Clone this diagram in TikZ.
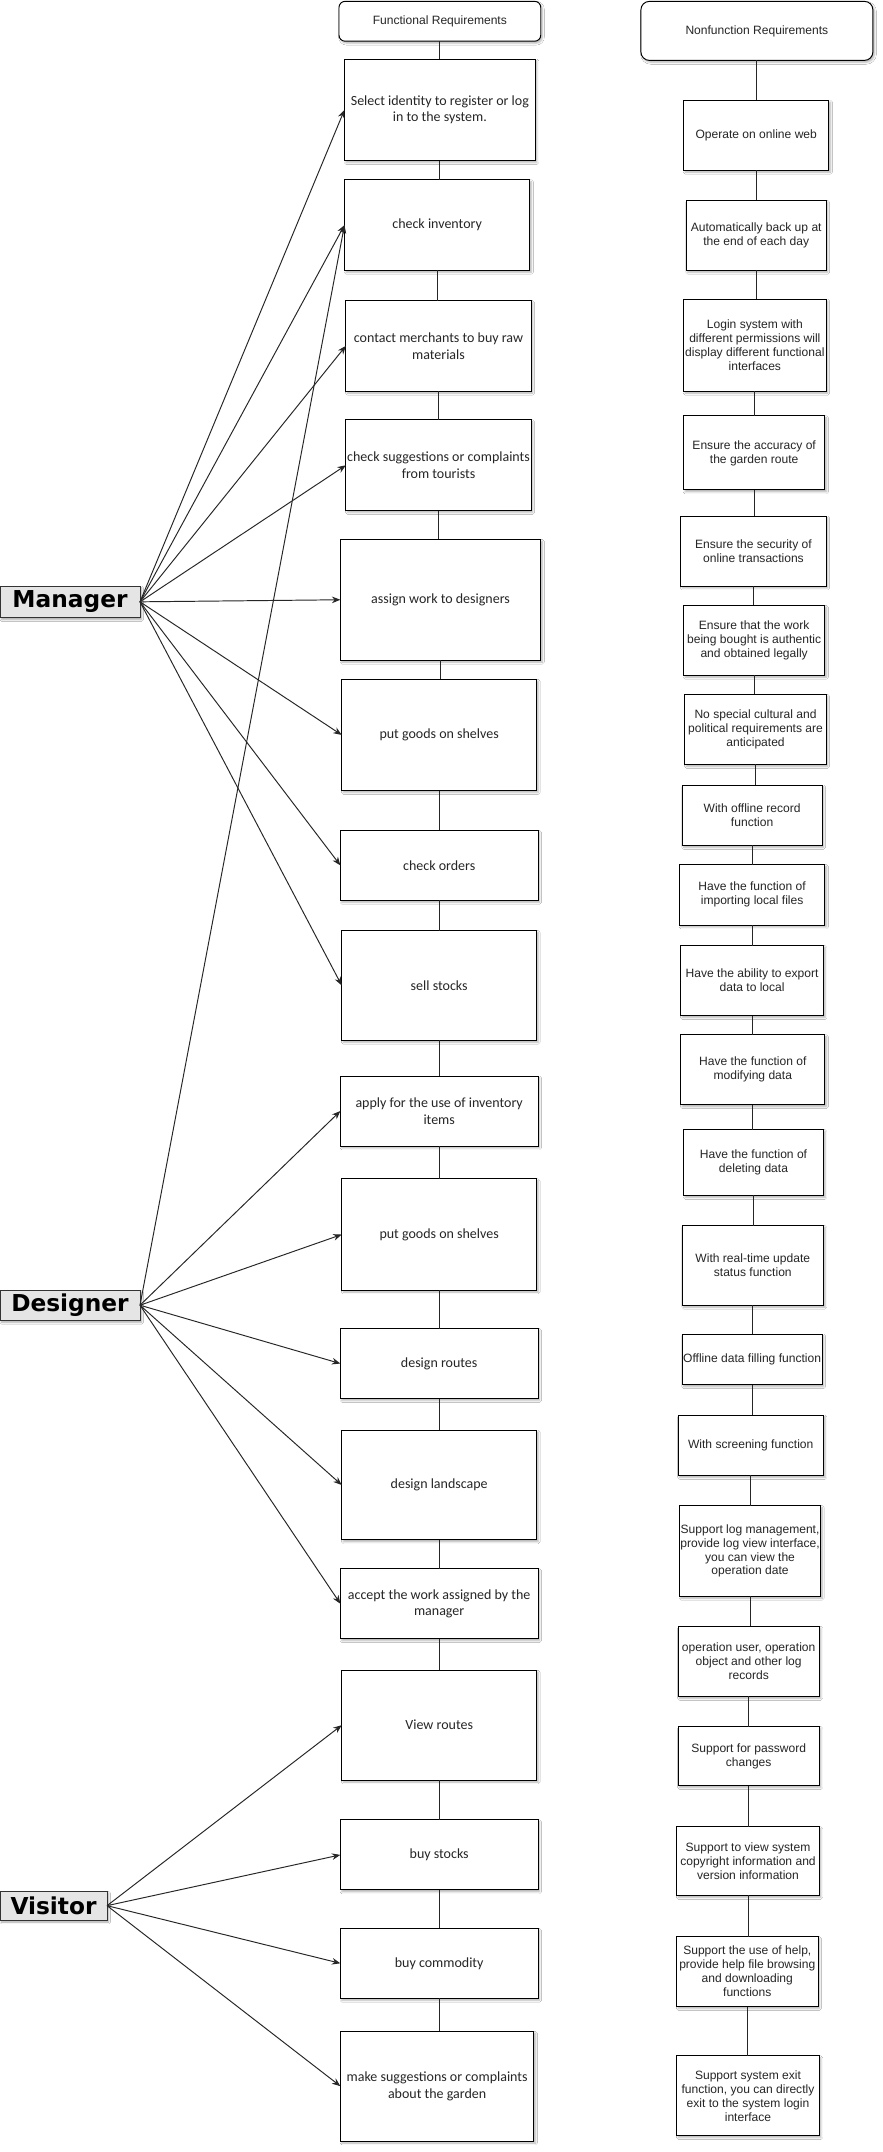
\documentclass[tikz,border=0pt]{standalone}
\usepackage{fontspec}
\setmainfont{Liberation Sans}
\newfontfamily\calfont{Carlito}
\newfontfamily\actorfont{DejaVu Sans}
\usetikzlibrary{arrows.meta,shadows.blur}

% place a node from its corner coordinates: style, name, x1, y1, x2, y2, text
\newcommand\placebox[7]{%
  \pgfmathsetmacro\bcx{(#3+#5)/2}%
  \pgfmathsetmacro\bcy{(#4+#6)/2}%
  \pgfmathsetmacro\bw{(#5-#3)*0.04}%
  \pgfmathsetmacro\bh{(#6-#4)*0.04}%
  \node[#1, minimum width=\bw cm, minimum height=\bh cm] (#2) at (\bcx,\bcy) {#7};%
}

\tikzset{
  basebox/.style={draw=black, line width=0.8pt, fill=white, inner sep=0pt, outer sep=0pt,
    align=center, text=black!85,
    blur shadow={shadow xshift=1.3pt, shadow yshift=-1.6pt, shadow blur radius=1.6pt, shadow opacity=30}},
  funcbox/.style={basebox, font=\calfont\fontsize{11.6}{13.9}\selectfont},
  nfbox/.style={basebox, font=\fontsize{10}{11.6}\selectfont},
  headbox/.style={basebox, rounded corners=5pt, font=\fontsize{10}{12}\selectfont},
  actorbox/.style={draw=black!80, line width=0.8pt, fill=black!10, inner sep=0pt, outer sep=0pt,
    text=black, font=\actorfont\bfseries\fontsize{19.3}{22}\selectfont,
    blur shadow={shadow xshift=1.3pt, shadow yshift=-1.6pt, shadow blur radius=1.6pt, shadow opacity=35}},
  link/.style={draw=black!85, line width=0.8pt},
  arr/.style={link, -{Stealth[length=7pt,width=5.5pt]}}
}

\begin{document}
\begin{tikzpicture}[x=0.04cm, y=-0.04cm]
\useasboundingbox (0,0) rectangle (643,1568);
\fill[white] (0,0) rectangle (643,1568);

% functional requirements column
\placebox{headbox}{fh}{247}{1}{394}{30}{Functional Requirements}
\placebox{funcbox}{f1}{251}{43}{390}{117}{Select identity to register or log\\in to the system.}
\placebox{funcbox}{f2}{251}{131}{386}{197}{check inventory}
\placebox{funcbox}{f3}{252}{219}{387}{285}{contact merchants to buy raw\\materials}
\placebox{funcbox}{f4}{252}{306}{387}{372}{check suggestions or complaints\\from tourists}
\placebox{funcbox}{f5}{248}{393}{394}{481}{assign work to designers}
\placebox{funcbox}{f6}{249}{495}{391}{576}{put goods on shelves}
\placebox{funcbox}{f7}{248}{605}{392}{656}{check orders}
\placebox{funcbox}{f8}{249}{678}{391}{758}{sell stocks}
\placebox{funcbox}{f9}{248}{784}{392}{835}{apply for the use of inventory\\items}
\placebox{funcbox}{f10}{249}{859}{391}{940}{put goods on shelves}
\placebox{funcbox}{f11}{248}{968}{392}{1019}{design routes}
\placebox{funcbox}{f12}{249}{1042}{391}{1122}{design landscape}
\placebox{funcbox}{f13}{248}{1143}{392}{1194}{accept the work assigned by the\\manager}
\placebox{funcbox}{f14}{249}{1217}{391}{1297}{View routes}
\placebox{funcbox}{f15}{248}{1326}{392}{1377}{buy stocks}
\placebox{funcbox}{f16}{248}{1405}{392}{1456}{buy commodity}
\placebox{funcbox}{f17}{248}{1480}{389}{1560}{make suggestions or complaints\\about the garden}

% nonfunctional requirements column
\placebox{headbox,rounded corners=7pt}{nh}{467}{1}{636}{44}{Nonfunction Requirements}
\placebox{nfbox}{n1}{498}{73}{604}{124}{Operate on online web}
\placebox{nfbox}{n2}{500}{146}{602}{197}{Automatically back up at\\the end of each day}
\placebox{nfbox}{n3}{498}{218}{602}{285}{Login system with\\different permissions will\\display different functional\\interfaces}
\placebox{nfbox}{n4}{498}{303}{601}{357}{Ensure the accuracy of\\the garden route}
\placebox{nfbox}{n5}{496}{376}{602}{427}{Ensure the security of\\online transactions}
\placebox{nfbox}{n6}{498}{441}{601}{492}{Ensure that the work\\being bought is authentic\\and obtained legally}
\placebox{nfbox}{n7}{499}{506}{602}{557}{No special cultural and\\political requirements are\\anticipated}
\placebox{nfbox}{n8}{497}{572}{599}{616}{With offline record\\function}
\placebox{nfbox}{n9}{495}{630}{601}{674}{Have the function of\\importing local files}
\placebox{nfbox}{n10}{496}{689}{600}{740}{Have the ability to export\\data to local}
\placebox{nfbox}{n11}{496}{754}{601}{805}{Have the function of\\modifying data}
\placebox{nfbox}{n12}{498}{823}{600}{871}{Have the function of\\deleting data}
\placebox{nfbox}{n13}{497}{893}{600}{951}{With real-time update\\status function}
\placebox{nfbox}{n14}{497}{972}{599}{1009}{Offline data filling function}
\placebox{nfbox}{n15}{494}{1031}{600}{1075}{With screening function}
\placebox{nfbox}{n16}{495}{1097}{598}{1163}{Support log management,\\provide log view interface,\\you can view the\\operation date}
\placebox{nfbox}{n17}{494}{1185}{597}{1236}{operation user, operation\\object and other log\\records}
\placebox{nfbox}{n18}{494}{1258}{597}{1301}{Support for password\\changes}
\placebox{nfbox}{n19}{493}{1331}{597}{1381}{Support to view system\\copyright information and\\version information}
\placebox{nfbox}{n20}{493}{1411}{596}{1462}{Support the use of help,\\provide help file browsing\\and downloading\\functions}
\placebox{nfbox}{n21}{493}{1498}{597}{1556}{Support system exit\\function, you can directly\\exit to the system login\\interface}

% actors
\placebox{actorbox}{mgr}{0}{427}{102}{450}{Manager}
\placebox{actorbox}{des}{0}{940}{102}{962}{Designer}
\placebox{actorbox}{vis}{0}{1378}{78}{1399}{Visitor}

% column spines
\foreach \a/\b in {fh/f1,f1/f2,f2/f3,f3/f4,f4/f5,f5/f6,f6/f7,f7/f8,f8/f9,f9/f10,
                   f10/f11,f11/f12,f12/f13,f13/f14,f14/f15,f15/f16,f16/f17,
                   nh/n1,n1/n2,n2/n3,n3/n4,n4/n5,n5/n6,n6/n7,n7/n8,n8/n9,n9/n10,
                   n10/n11,n11/n12,n12/n13,n13/n14,n14/n15,n15/n16,n16/n17,
                   n17/n18,n18/n19,n19/n20,n20/n21}
  \draw[link] (\a.south) -- (\a.south |- \b.north);

% actor associations
\foreach \t in {f1,f2,f3,f4,f5,f6,f7,f8}
  \draw[arr] (mgr.east) -- (\t.west);
\foreach \t in {f2,f9,f10,f11,f12,f13}
  \draw[arr] (des.east) -- (\t.west);
\foreach \t in {f14,f15,f16,f17}
  \draw[arr] (vis.east) -- (\t.west);
\end{tikzpicture}
\end{document}
